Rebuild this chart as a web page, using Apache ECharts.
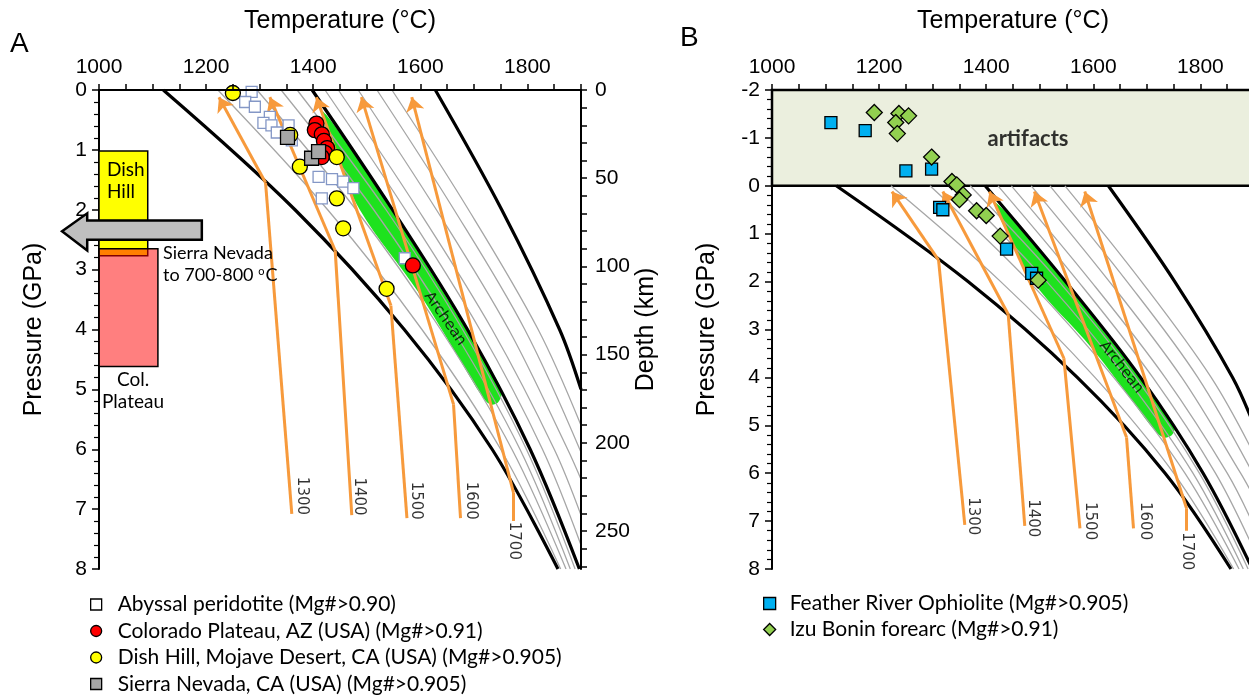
<!DOCTYPE html>
<html>
<head>
<meta charset="utf-8">
<script src="https://cdn.jsdelivr.net/npm/echarts@6/dist/echarts.min.js"></script>
<style>html,body{margin:0;background:#fff}#main{width:1249px;height:697px}</style>
</head>
<body>
<div id="main"></div>
<script>
"use strict";

// ---- data (temperature in C, pressure in GPa) ----
var adiabatNames = ['1300', '1400', '1500', '1600', '1700'];
// bottom -> kink at solidus -> top (arrow end)
var adiabats = [
    [[1360, 7.08], [1311, 1.55], [1224, 0.12]],
    [[1472, 7.10], [1441, 2.68], [1319, 0.12]],
    [[1575, 7.15], [1545, 3.60], [1406, 0.12]],
    [[1675, 7.15], [1662, 5.25], [1490, 0.12]],
    [[1774, 7.20], [1774, 6.73], [1584, 0.12]]
];
var adiabatLabelA = [[1378, 6.78], [1486, 6.79], [1592, 6.86], [1694, 6.86], [1774, 7.53]];
var adiabatLabelB = [[1376, 6.90], [1488, 6.94], [1594, 7.00], [1697, 7.00], [1774, 7.63]];

var grayCurves = [
    [[1222, 0], [1427, 2], [1603, 4], [1750, 6], [1862, 8]],
    [[1295, 0], [1480, 2], [1638, 4], [1771, 6], [1872, 8]],
    [[1340, 0], [1513, 2], [1661, 4], [1786, 6], [1880, 8]],
    [[1370, 0], [1536, 2], [1679, 4], [1798, 6], [1889, 8]],
    [[1422, 0], [1572, 2], [1711, 4], [1828, 6], [1900, 7.6]],
    [[1447, 0], [1596, 2], [1734, 4], [1850, 6], [1900, 7.1]],
    [[1484, 0], [1630, 2], [1765, 4], [1875, 6], [1900, 6.5]],
    [[1519, 0], [1663, 2], [1795, 4], [1900, 6.05]],
    [[1547, 0], [1690, 2], [1820, 4], [1900, 5.6]]
];
var blackCurves = [
    [[1120, 0], [1366, 2], [1570, 4], [1734, 6], [1857, 8]],
    [[1398, 0], [1548, 2], [1688, 4], [1805, 6], [1897, 8]],
    [[1628, 0], [1752, 2], [1860, 4], [1900, 5.0]]
];
var archeanBand = [[1416, 0.35], [1472, 1.0], [1546, 2.0], [1617, 3.0], [1686, 4.0], [1740, 4.8],
    [1752, 5.05], [1745, 5.22], [1730, 5.25], [1714, 5.1], [1680, 4.6], [1598, 3.4], [1487, 2.0], [1440, 1.0]];
var archeanLabelA = [[1646, 3.82]];
var archeanLabelB = [[1652, 3.79]];

var abyssal = [[1285, 0.03], [1273, 0.20], [1291, 0.28], [1319, 0.45], [1307, 0.55], [1322, 0.59], [1354, 0.59],
    [1332, 0.71], [1360, 0.84], [1410, 1.45], [1435, 1.49], [1456, 1.53], [1475, 1.64], [1416, 1.81], [1571, 2.81]];
var colorado = [[1406, 0.56], [1403, 0.67], [1416, 0.74], [1420, 0.85], [1426, 0.97], [1422, 1.05], [1416, 1.12], [1586, 2.93]];
var dishHill = [[1250, 0.05], [1357, 0.75], [1375, 1.28], [1444, 1.12], [1444, 1.81], [1456, 2.31], [1537, 3.32]];
var sierra = [[1352, 0.79], [1397, 1.14], [1410, 1.03]];

var featherRiver = [[1110, -1.32], [1174, -1.15], [1250, -0.31], [1298, -0.35], [1313, 0.45], [1319, 0.50],
    [1438, 1.32], [1485, 1.83], [1494, 1.93]];
var izuBonin = [[1191, -1.53], [1237, -1.51], [1255, -1.46], [1231, -1.32], [1234, -1.09], [1298, -0.60],
    [1336, -0.09], [1345, -0.02], [1357, 0.19], [1350, 0.29], [1382, 0.52], [1400, 0.62], [1426, 1.05], [1497, 1.97]];

var dishHillBox = [[1000, 1.02], [1091, 2.77]];
var colPlateauBox = [[1000, 2.65], [1110, 4.62]];
var sierraArrow = [[1192, 2.18], [978, 2.18], [978, 2.06], [931, 2.36], [978, 2.68], [978, 2.50], [1192, 2.50]];
var artifactBox = [[1000, -2], [1900, 0]];
var artifactLabel = [[1478, -0.98]];

var seriesNames = ['Abyssal peridotite (Mg#>0.90)', 'Colorado Plateau, AZ (USA) (Mg#>0.91)',
    'Dish Hill, Mojave Desert, CA (USA) (Mg#>0.905)', 'Sierra Nevada, CA (USA) (Mg#>0.905)',
    'Feather River Ophiolite (Mg#>0.905)', 'Izu Bonin forearc (Mg#>0.91)'];

// ---- styles ----
var AXIS_FONT = "'Liberation Sans', Arial, sans-serif";
var TEXT_FONT = "Lato, 'Open Sans', sans-serif";
var SMALL_FONT = "DejaVu Sans";
var ORANGE = '#F79A3C';

var myChart = echarts.init(document.getElementById('main'));

function rectCorners(c) {
    return [[c[0][0], c[0][1]], [c[1][0], c[0][1]], [c[1][0], c[1][1]], [c[0][0], c[1][1]]];
}

function polygonSeries(points, style, xi, yi, z, smooth) {
    return {
        type: 'custom', xAxisIndex: xi, yAxisIndex: yi, z: z, silent: true, clip: false,
        data: [points[0]],
        renderItem: function (params, api) {
            return {
                type: 'polygon',
                shape: { points: points.map(function (p) { return api.coord(p); }), smooth: smooth || 0 },
                style: style
            };
        }
    };
}

function curveSeries(xi, yi, labelAnchors, archRot) {
    var list = [];
    list.push(polygonSeries(archeanBand, { fill: '#1EE21E' }, xi, yi, 2, 0.35));
    grayCurves.forEach(function (c) {
        list.push({
            type: 'line', xAxisIndex: xi, yAxisIndex: yi, data: c, smooth: 0.35, showSymbol: false,
            silent: true, z: 3, lineStyle: { color: '#A6A6A6', width: 1.3 }
        });
    });
    blackCurves.forEach(function (c) {
        list.push({
            type: 'line', xAxisIndex: xi, yAxisIndex: yi, data: c, smooth: 0.35, showSymbol: false,
            silent: true, z: 4, lineStyle: { color: '#000', width: 3.2 }
        });
    });
    // solid part of each adiabat
    list.push({
        type: 'lines', coordinateSystem: 'cartesian2d', xAxisIndex: xi, yAxisIndex: yi,
        silent: true, z: 5, symbol: ['none', 'none'],
        lineStyle: { color: ORANGE, width: 3, opacity: 1 },
        data: adiabats.map(function (a) { return { coords: [a[0], a[1]] }; })
    });
    // melting part, with the arrow head
    list.push({
        type: 'lines', coordinateSystem: 'cartesian2d', xAxisIndex: xi, yAxisIndex: yi,
        silent: true, z: 5, symbol: ['none', 'arrow'], symbolSize: 14,
        lineStyle: { color: ORANGE, width: 3, opacity: 1 },
        data: adiabats.map(function (a) { return { coords: [a[1], a[2]] }; })
    });
    list.push({
        type: 'scatter', xAxisIndex: xi, yAxisIndex: yi, symbolSize: 0, silent: true, z: 6,
        data: labelAnchors.map(function (p, i) { return { value: p, name: adiabatNames[i] }; }),
        label: {
            show: true, position: [0, 0], align: 'center', verticalAlign: 'middle', rotate: -90,
            formatter: '{b}', fontFamily: SMALL_FONT, fontSize: 15, color: '#000'
        }
    });
    list.push({
        type: 'scatter', xAxisIndex: xi, yAxisIndex: yi, symbolSize: 0, silent: true, z: 6,
        data: (xi === 0 ? archeanLabelA : archeanLabelB),
        label: {
            show: true, position: [0, 0], align: 'center', verticalAlign: 'middle', rotate: archRot,
            formatter: 'Archean', fontFamily: SMALL_FONT, fontSize: 15, color: '#000'
        }
    });
    return list;
}

function tempAxis(gi) {
    return {
        gridIndex: gi, type: 'value', position: 'top', min: 1000, max: 1900, interval: 50, z: 10,
        name: 'Temperature (°C)', nameLocation: 'middle', nameGap: 56,
        nameTextStyle: { fontFamily: AXIS_FONT, fontSize: 25, color: '#000' },
        axisLine: { onZero: false, lineStyle: { color: '#000', width: 2 } },
        axisTick: { length: 6, lineStyle: { color: '#000', width: 1.5 } },
        splitLine: { show: false },
        axisLabel: {
            fontFamily: AXIS_FONT, fontSize: 21, color: '#000', margin: 12,
            formatter: function (v) { return v % 200 === 0 ? String(v) : ''; }
        }
    };
}

function pressureAxis(gi, min, max) {
    return {
        gridIndex: gi, type: 'value', position: 'left', inverse: true, min: min, max: max, interval: 1, z: 10,
        name: 'Pressure (GPa)', nameLocation: 'middle', nameGap: 52, nameRotate: 90,
        nameTextStyle: { fontFamily: AXIS_FONT, fontSize: 25, color: '#000' },
        axisLine: { onZero: false, lineStyle: { color: '#000', width: 2 } },
        axisTick: { length: 7, lineStyle: { color: '#000', width: 1.5 } },
        minorTick: { show: true, splitNumber: 5, length: 5, lineStyle: { color: '#000', width: 1.2 } },
        splitLine: { show: false }, minorSplitLine: { show: false },
        axisLabel: { fontFamily: AXIS_FONT, fontSize: 21, color: '#000', margin: 12 }
    };
}

var depthAxis = {
    gridIndex: 0, type: 'value', position: 'right', inverse: true, min: 0, max: 271.5, interval: 10, z: 10,
    name: 'Depth (km)', nameLocation: 'middle', nameGap: 48, nameRotate: 90,
    nameTextStyle: { fontFamily: AXIS_FONT, fontSize: 25, color: '#000' },
    axisLine: { onZero: false, lineStyle: { color: '#000', width: 2 } },
    axisTick: { length: 6, lineStyle: { color: '#000', width: 1.5 } },
    splitLine: { show: false },
    axisLabel: {
        fontFamily: AXIS_FONT, fontSize: 21, color: '#000', margin: 14, showMaxLabel: false,
        formatter: function (v) { return v % 50 === 0 ? String(v) : ''; }
    }
};

function scatter(name, data, symbol, size, color, border, xi, yi, z) {
    return {
        name: name, type: 'scatter', xAxisIndex: xi, yAxisIndex: yi, data: data, symbol: symbol,
        symbolSize: size, z: z,
        itemStyle: { color: color, borderColor: border, borderWidth: 1.3, opacity: 1 }
    };
}

var series = [];
series = series.concat(curveSeries(0, 0, adiabatLabelA, -55));
series = series.concat(curveSeries(1, 2, adiabatLabelB, -52));

// panel A annotations
series.push(polygonSeries(rectCorners(dishHillBox), { fill: '#FFFF00', stroke: '#000', lineWidth: 1.5 }, 0, 0, 11));
series.push(polygonSeries(rectCorners(colPlateauBox), { fill: 'rgba(255,0,0,0.5)', stroke: '#000', lineWidth: 1.5 }, 0, 0, 11));
series.push(polygonSeries(sierraArrow, { fill: '#BFBFBF', stroke: '#000', lineWidth: 2.5 }, 0, 0, 12));

// panel B artifact zone
series.push(polygonSeries(rectCorners(artifactBox), { fill: '#EBEFDE', stroke: '#000', lineWidth: 2.5 }, 1, 2, 1));
series.push({
    type: 'scatter', xAxisIndex: 1, yAxisIndex: 2, symbolSize: 0, silent: true, z: 6, data: artifactLabel,
    label: {
        show: true, position: [0, 0], align: 'center', verticalAlign: 'middle', formatter: 'artifacts',
        fontFamily: TEXT_FONT, fontWeight: 'bold', fontSize: 22, color: '#000'
    }
});

series.push(scatter(seriesNames[0], abyssal, 'rect', 11, '#FFFFFF', '#8497C6', 0, 0, 7));
series.push(scatter(seriesNames[1], colorado, 'circle', 15, '#FF0000', '#000', 0, 0, 8));
series.push(scatter(seriesNames[2], dishHill, 'circle', 15, '#FFFF00', '#000', 0, 0, 9));
series.push(scatter(seriesNames[3], sierra, 'rect', 14, '#A6A6A6', '#000', 0, 0, 9));
series.push(scatter(seriesNames[4], featherRiver, 'rect', 12, '#00B0F0', '#000', 1, 2, 8));
series.push(scatter(seriesNames[5], izuBonin, 'diamond', 16, '#92D050', '#000', 1, 2, 9));

function legendItem(name, icon, color) {
    return { name: name, icon: icon, itemStyle: { color: color, borderColor: '#000', borderWidth: 1.3 } };
}
function legendText(pad) {
    return { fontFamily: TEXT_FONT, fontSize: 21, color: '#000', lineHeight: 19, padding: [0, 0, 0, pad] };
}

var textStyle = function (size) { return size + "px Lato, 'Open Sans', sans-serif"; };

var option = {
    animation: false,
    backgroundColor: '#fff',
    grid: [
        { left: 99, top: 90, width: 482, height: 479, outerBoundsMode: 'none' },
        { left: 772, top: 90, width: 482, height: 479, outerBoundsMode: 'none' }
    ],
    xAxis: [tempAxis(0), tempAxis(1)],
    yAxis: [pressureAxis(0, 0, 8), depthAxis, pressureAxis(1, -2, 8)],
    legend: [
        {
            left: 85, top: 589, height: 140, orient: 'vertical', itemWidth: 11, itemHeight: 11, itemGap: 5.5,
            selectedMode: false, textStyle: legendText(11),
            data: [legendItem(seriesNames[0], 'rect', '#FFFFFF'), legendItem(seriesNames[1], 'circle', '#FF0000'),
                legendItem(seriesNames[2], 'circle', '#FFFF00'), legendItem(seriesNames[3], 'rect', '#A6A6A6')]
        },
        {
            left: 758, top: 588, height: 100, orient: 'vertical', itemWidth: 12, itemHeight: 12, itemGap: 5,
            selectedMode: false, textStyle: legendText(9),
            data: [legendItem(seriesNames[4], 'rect', '#00B0F0'), legendItem(seriesNames[5], 'diamond', '#92D050')]
        }
    ],
    graphic: [
        { type: 'text', x: 10, y: 30, z: 100, style: { text: 'A', font: "28px 'Liberation Sans', Arial", fill: '#000' } },
        { type: 'text', x: 680, y: 24, z: 100, style: { text: 'B', font: "28px 'Liberation Sans', Arial", fill: '#000' } },
        { type: 'text', x: 107, y: 170, z: 100, style: { text: 'Dish', font: textStyle(19), fill: '#000', verticalAlign: 'middle' } },
        { type: 'text', x: 107, y: 192, z: 100, style: { text: 'Hill', font: textStyle(19), fill: '#000', verticalAlign: 'middle' } },
        { type: 'text', x: 163, y: 253, z: 100, style: { text: 'Sierra Nevada', font: textStyle(18), fill: '#000', verticalAlign: 'middle' } },
        {
            type: 'text', x: 163, y: 275, z: 100, style: {
                text: 'to 700-800 {sup|o}C', font: textStyle(18), fill: '#000', verticalAlign: 'middle',
                rich: { sup: { font: textStyle(11), verticalAlign: 'top', padding: [0, 1, 8, 0] } }
            }
        },
        { type: 'text', x: 133, y: 380, z: 100, style: { text: 'Col.', font: textStyle(19), fill: '#000', align: 'center', verticalAlign: 'middle' } },
        { type: 'text', x: 133, y: 402, z: 100, style: { text: 'Plateau', font: textStyle(19), fill: '#000', align: 'center', verticalAlign: 'middle' } }
    ],
    series: series
};
myChart.setOption(option);
</script>
</body>
</html>
